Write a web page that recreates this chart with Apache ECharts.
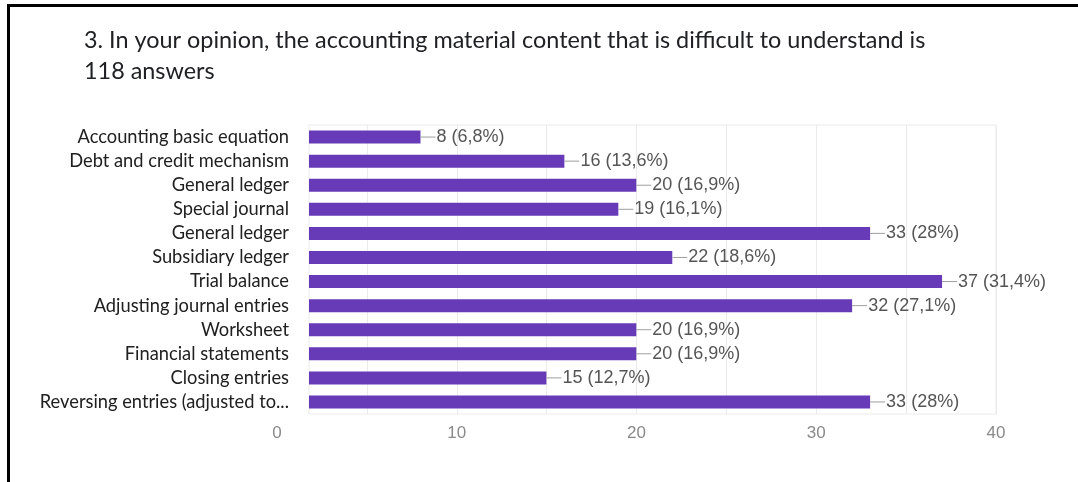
<!DOCTYPE html>
<html><head><meta charset="utf-8">
<script src="https://cdn.jsdelivr.net/npm/echarts@6/dist/echarts.min.js"></script>
<style>
html,body{margin:0;padding:0;background:#fff;}
#frame{position:absolute;left:7px;top:4px;width:1071px;height:478px;border-top:3px solid #000;border-left:3px solid #000;box-sizing:border-box;}
#c{position:absolute;left:0;top:0;width:1078px;height:482px;}
</style></head>
<body>
<div id="frame"></div>
<div id="c"></div>
<script>
const categories = ["Accounting basic equation","Debt and credit mechanism","General ledger","Special journal","General ledger","Subsidiary ledger","Trial balance","Adjusting journal entries","Worksheet","Financial statements","Closing entries","Reversing entries (adjusted to..."];
const values = [8,16,20,19,33,22,37,32,20,20,15,33];
const pctLabels = ["6,8%","13,6%","16,9%","16,1%","28%","18,6%","31,4%","27,1%","16,9%","16,9%","12,7%","28%"];
const xTicks = [0,10,20,30,40];
const titleText = "3. In your opinion, the accounting material content that is difficult to understand is";
const subText = "118 answers";

const chart = echarts.init(document.getElementById('c'));
const gridColor = '#ebebeb';
chart.setOption({
  animation:false,
  title:{text:titleText+'\n'+subText,left:84,top:25,padding:0,textStyle:{fontFamily:'Lato',fontSize:23.4,fontWeight:'normal',color:'#202124',lineHeight:31}},
  grid:[
    {left:277,right:82,top:125,bottom:68},
    {left:309,right:82,top:125,bottom:68,show:true,borderColor:gridColor,borderWidth:1,backgroundColor:'transparent'}
  ],
  xAxis:[
    {gridIndex:0,type:'value',min:xTicks[0],max:xTicks[xTicks.length-1],interval:5,
     axisLine:{show:false},axisTick:{show:false},
     axisLabel:{formatter:v=>xTicks.includes(v)?String(v):'',color:'#8a8a8a',fontFamily:'Arial',fontSize:17,margin:11},
     splitLine:{show:true,lineStyle:{color:['rgba(0,0,0,0)',gridColor,gridColor,gridColor,gridColor,gridColor,gridColor,gridColor,gridColor],width:1}}},
    {gridIndex:1,type:'value',min:1.8,max:40,show:false,splitLine:{show:false}}
  ],
  yAxis:[
    {gridIndex:0,type:'category',data:categories,inverse:true,show:false},
    {gridIndex:1,type:'category',data:categories,inverse:true,
     axisLine:{show:false},axisTick:{show:false},
     axisLabel:{color:'#202020',fontFamily:'Lato',fontSize:18.3,margin:20}}
  ],
  series:[{
    type:'bar',xAxisIndex:1,yAxisIndex:1,data:values,barWidth:13,
    itemStyle:{color:'#673ab7'},
    label:{show:true,position:'right',distance:0,
      formatter:p=>'{l|}{t|'+p.value+' ('+pctLabels[p.dataIndex]+')}',
      rich:{l:{width:15,height:1,backgroundColor:'#9e9e9e'},t:{color:'#555',fontFamily:'Arial',fontSize:18,padding:[0,0,0,1]}}}
  }]
});
</script>
</body></html>
